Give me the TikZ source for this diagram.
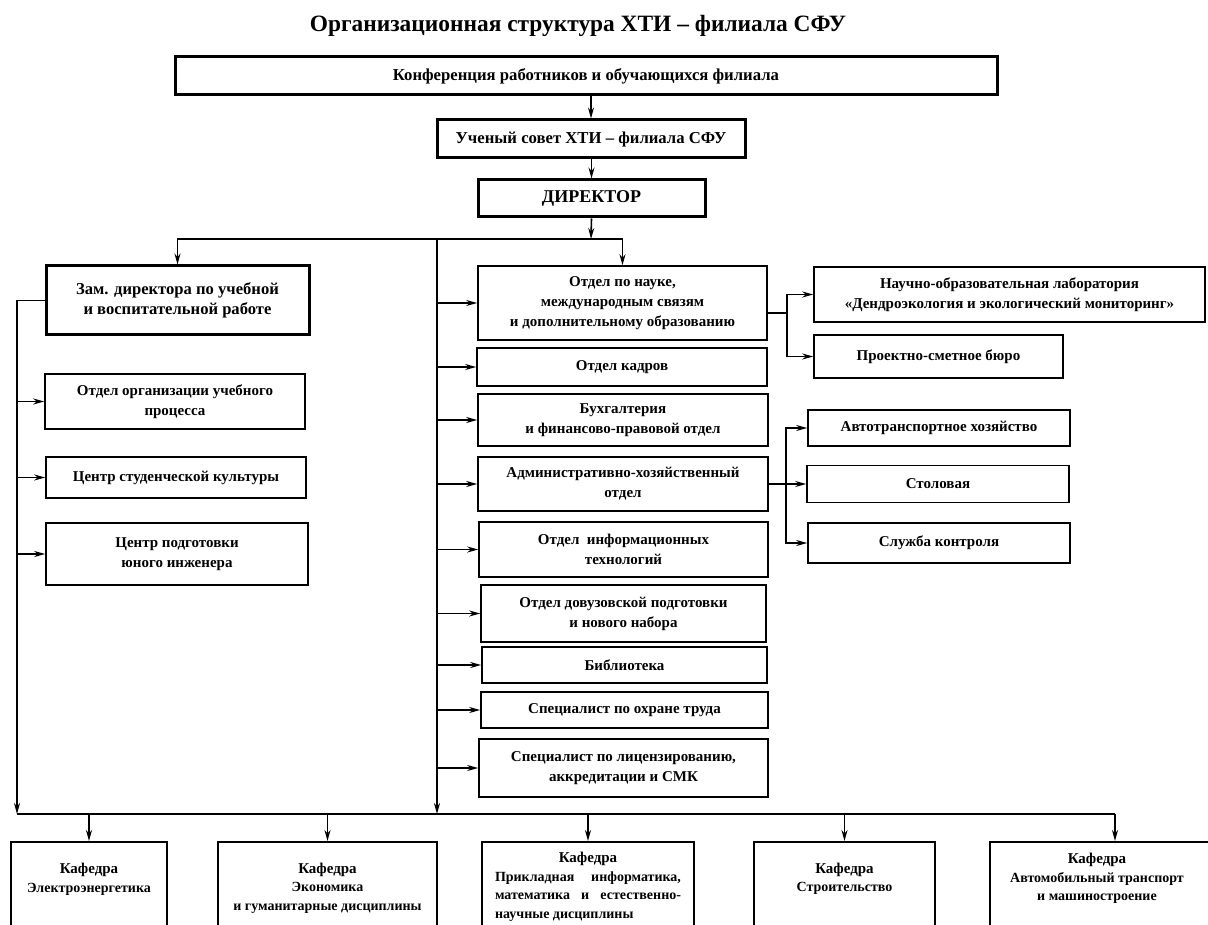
\documentclass[tikz,border=0pt]{standalone}
\usepackage{fontspec}
\setmainfont{Liberation Serif}
\usetikzlibrary{arrows.meta}

\begin{document}
\begin{tikzpicture}[x=1pt,y=-1pt,
  box/.style={draw, line width=1.6pt, align=center, inner sep=2pt,
    font=\fontsize{15}{20}\selectfont\bfseries},
  mainbox/.style={box, line width=3pt},
  kbox/.style={draw, line width=1.6pt, anchor=north, minimum height=110pt},
  ktext/.style={align=center, font=\fontsize{14}{18.5}\selectfont\bfseries},
  link/.style={line width=1.6pt},
  arr/.style={link, -{Stealth[length=11pt,width=6pt]}}]
\clip (0,0) rectangle (1208,925);
% top
\node[font=\fontsize{23.4}{28}\selectfont\bfseries] (title) at (578,26) {Организационная структура ХТИ – филиала СФУ};
\node[mainbox, minimum width=822pt, minimum height=38pt, font=\fontsize{16.7}{20}\selectfont\bfseries] (conf) at (586,76) {Конференция работников и обучающихся филиала};
\node[mainbox, minimum width=308pt, minimum height=38pt, font=\fontsize{16.7}{20}\selectfont\bfseries] (sovet) at (591,139) {Ученый совет ХТИ – филиала СФУ};
\node[mainbox, minimum width=227pt, minimum height=37pt, font=\fontsize{18}{20}\selectfont\bfseries] (dir) at (591.5,198.5) {ДИРЕКТОР};
\node[mainbox, minimum width=263pt, minimum height=69pt, font=\fontsize{16.6}{20.5}\selectfont\bfseries] (zam) at (177.5,300.5) {Зам. директора по учебной\\и воспитательной работе};
% left column
\node[box, minimum width=260pt, minimum height=55pt] (oup) at (175,401.5) {Отдел организации учебного\\процесса};
\node[box, minimum width=260pt, minimum height=41pt] (csk) at (176,477.5) {Центр студенческой культуры};
\node[box, minimum width=262pt, minimum height=62pt] (cpi) at (177,554) {Центр подготовки\\юного инженера};
% middle column
\node[box, minimum width=289pt, minimum height=74pt] (nauka) at (622.5,303) {Отдел по науке,\\международным связям\\и дополнительному образованию};
\node[box, minimum width=290pt, minimum height=38pt] (kadr) at (622,367) {Отдел кадров};
\node[box, minimum width=290pt, minimum height=52pt] (buh) at (623,420) {Бухгалтерия\\и финансово-правовой отдел};
\node[box, minimum width=290pt, minimum height=54pt] (ahd) at (623,484) {Административно-хозяйственный\\отдел};
\node[box, minimum width=289pt, minimum height=55pt] (it) at (623.5,549.5) {Отдел\ \ информационных\\технологий};
\node[box, minimum width=285pt, minimum height=57pt] (dovuz) at (623.5,613.5) {Отдел довузовской подготовки\\и нового набора};
\node[box, minimum width=285pt, minimum height=36pt] (bibl) at (624.5,665) {Библиотека};
\node[box, minimum width=287pt, minimum height=36pt] (ohr) at (624.5,710) {Специалист по охране труда};
\node[box, minimum width=289pt, minimum height=58pt] (lic) at (623.5,768) {Специалист по лицензированию,\\аккредитации и СМК};
% right column
\node[box, minimum width=391pt, minimum height=55pt] (lab) at (1009.5,294.5) {Научно-образовательная лаборатория\\«Дендроэкология и экологический мониторинг»};
\node[box, minimum width=249pt, minimum height=43pt] (buro) at (938.5,356.5) {Проектно-сметное бюро};
\node[box, minimum width=262pt, minimum height=36pt] (ato) at (939,428) {Автотранспортное хозяйство};
\node[box, minimum width=262pt, minimum height=37pt] (stol) at (938,484) {Столовая};
\node[box, minimum width=262pt, minimum height=40pt] (sk) at (939,543) {Служба контроля};
% departments
\node[kbox, minimum width=156pt] (k1) at (89,841) {};
\node[kbox, minimum width=219pt] (k2) at (327.5,841) {};
\node[kbox, minimum width=212pt] (k3) at (588,841) {};
\node[kbox, minimum width=181pt] (k4) at (844.5,841) {};
\node[kbox, minimum width=250pt] (k5) at (1115,841) {};
\node[ktext] (k1t) at (89,879.5) {{\fontsize{15}{18.5}\selectfont Кафедра}\\Электроэнергетика};
\node[ktext] (k2t) at (327.5,888) {{\fontsize{15}{18.5}\selectfont Кафедра}\\Экономика\\и гуманитарные дисциплины};
\node[ktext] (k3t) at (588,887) {{\fontsize{15}{18.5}\selectfont Кафедра}\\\makebox[186pt][s]{Прикладная информатика,}\\\makebox[186pt][s]{математика и естественно-}\\\makebox[186pt][l]{научные дисциплины}};
\node[ktext] (k4t) at (844.5,879) {{\fontsize{15}{18.5}\selectfont Кафедра}\\Строительство};
\node[ktext] (k5t) at (1097,878.5) {{\fontsize{15}{18.5}\selectfont Кафедра}\\Автомобильный транспорт\\и машиностроение};
% connectors
\draw[arr] (sovet.north |- conf.south) -- (sovet.north);
\draw[arr] (dir.north |- sovet.south) -- (dir.north);
\coordinate (hub) at (591,239);
\draw[arr] (dir.south) -- (hub);
\draw[arr] (hub) -| (zam.north);
\draw[arr] (hub) -| (nauka.north);
\coordinate (mtop) at (437,239);
\coordinate (mbot) at (437,814);
\draw[arr] (mtop) -- (mbot);
\foreach \n in {nauka,kadr,buh,ahd,it,dovuz,bibl,ohr,lic}
  \draw[arr] (mbot |- \n.west) -- (\n.west);
\coordinate (lbot) at (17,814);
\draw[arr] (zam.west) -| (lbot);
\foreach \n in {oup,csk,cpi}
  \draw[arr] (lbot |- \n.west) -- (\n.west);
\draw[link] (lbot) -- (k5.north |- lbot);
\foreach \n in {k1,k2,k3,k4,k5}
  \draw[arr] (\n.north |- lbot) -- (\n.north);
\draw[link] ([yshift=-10pt]nauka.east) -- ++(19,0) coordinate (nb);
\draw[arr] (nb) |- (lab.west);
\draw[arr] (nb) |- (buro.west);
\draw[link] (ahd.east) -- ++(17,0) coordinate (ab);
\foreach \n in {ato,stol,sk}
  \draw[arr] (ab) |- (\n.west);
\end{tikzpicture}
\end{document}
